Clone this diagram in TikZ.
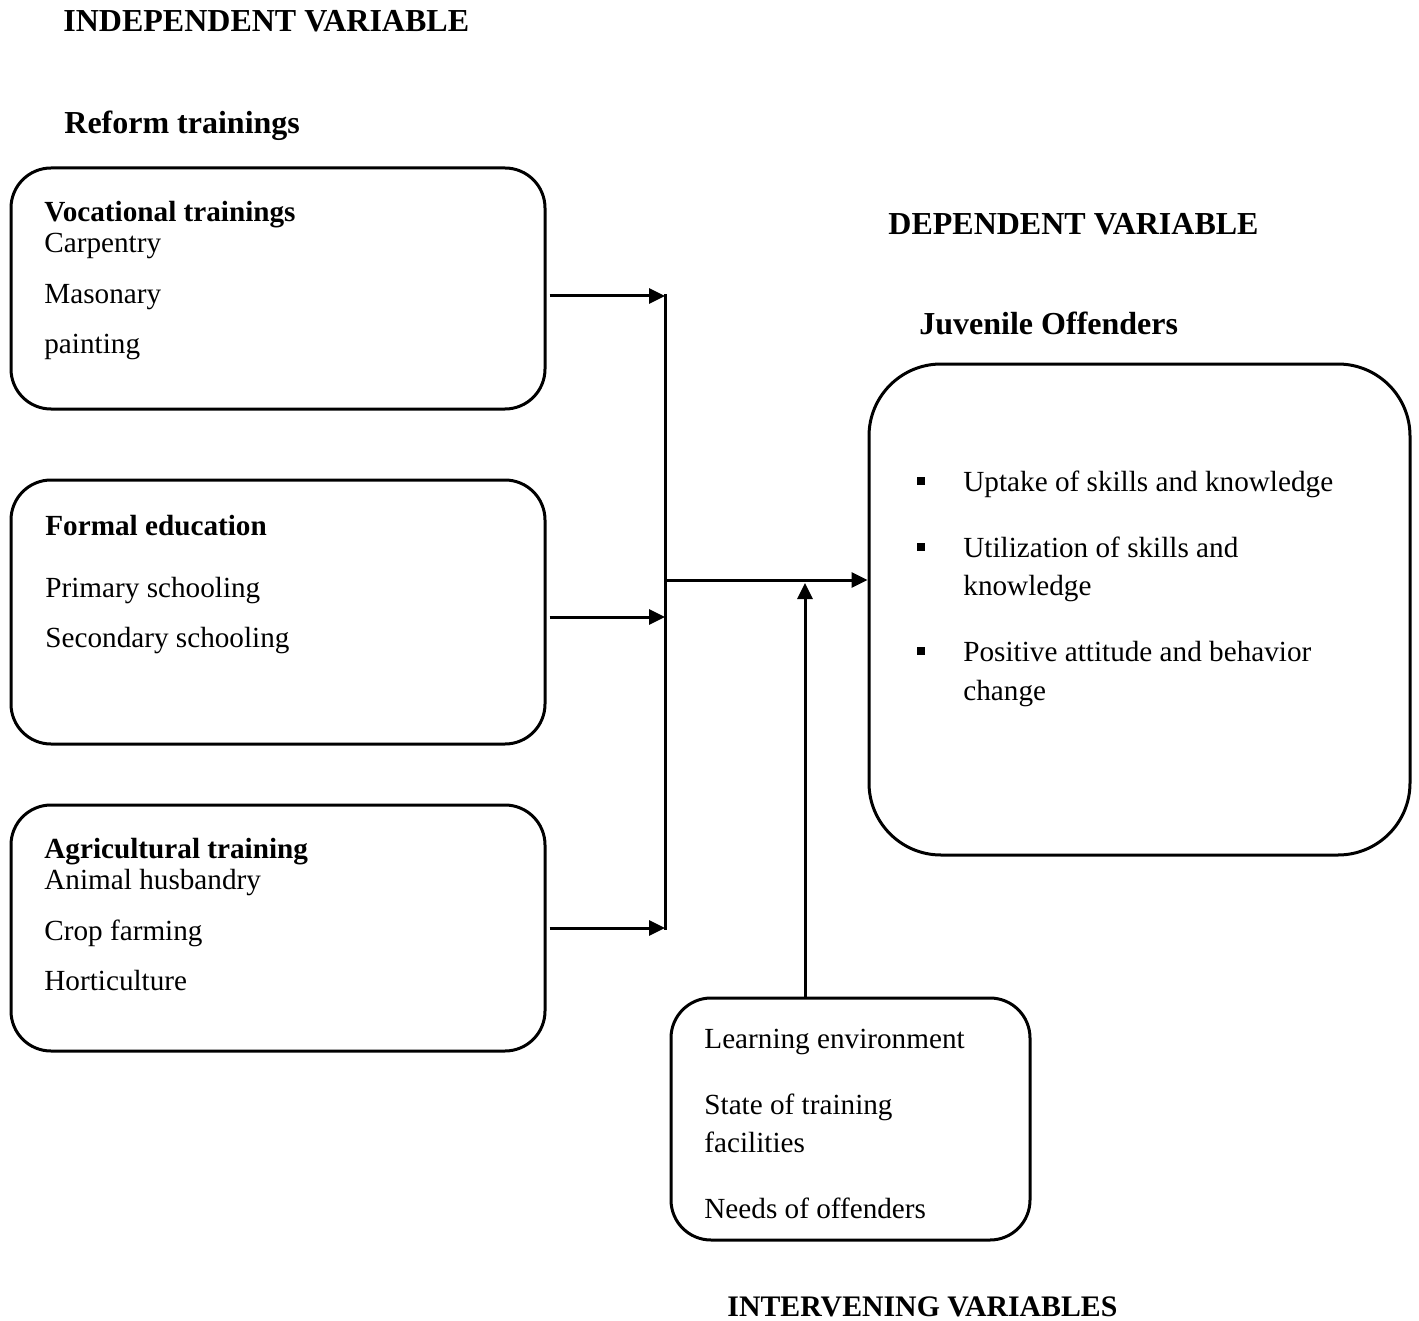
\documentclass[tikz,border=0pt]{standalone}
\usepackage{fontspec}
\setmainfont{Liberation Serif}
\usetikzlibrary{arrows.meta}
\tikzset{
  box/.style={draw, line width=1.5pt, rounded corners=20pt, inner sep=0pt},
  txt/.style={anchor=west, inner sep=0pt, text height=0.7em, text depth=0.25em, font=\fontsize{14.6}{17}\selectfont},
  btxt/.style={txt, font=\fontsize{14.6}{17}\selectfont\bfseries},
  head/.style={txt, font=\fontsize{16}{19}\selectfont\bfseries},
  conn/.style={line width=1.5pt},
  arr/.style={conn, -{Triangle[length=8pt,width=7.5pt]}},
  bul/.style={fill, inner sep=0pt, minimum size=4pt}
}
\begin{document}
\begin{tikzpicture}[x=0.5pt,y=-0.5pt]
\useasboundingbox (0,0) rectangle (1419,1321);

% headings
\node[head] (hind) at (63,27) {INDEPENDENT VARIABLE};
\node[head] (hrt) at (64,129) {Reform trainings};
\node[head] (hdep) at (888,230) {DEPENDENT VARIABLE};
\node[head] (hjo) at (919,330) {Juvenile Offenders};
\node[head, font=\fontsize{14.9}{18}\selectfont\bfseries] (hint) at (727,1312) {INTERVENING VARIABLES};

% boxes
\node[box, minimum width=267pt, minimum height=120.5pt] (box1) at (278,288.5) {};
\node[box, minimum width=267pt, minimum height=132pt] (box2) at (278,612) {};
\node[box, minimum width=267pt, minimum height=123pt] (box3) at (278,928) {};
\node[box, rounded corners=36pt, minimum width=270.5pt, minimum height=245.5pt] (dep) at (1139.5,609.5) {};
\node[box, minimum width=179.5pt, minimum height=121pt] (int) at (850.5,1119) {};

% box1 text
\node[btxt] (t11) at (44,217) {Vocational trainings};
\node[txt] (t12) at (44,248) {Carpentry};
\node[txt] (t13) at (44,299) {Masonary};
\node[txt] (t14) at (44,349) {painting};
% box2 text
\node[btxt] (t21) at (45,531) {Formal education};
\node[txt] (t22) at (45,593) {Primary schooling};
\node[txt] (t23) at (45,643) {Secondary schooling};
% box3 text
\node[btxt] (t31) at (44,854) {Agricultural training};
\node[txt] (t32) at (44,885) {Animal husbandry};
\node[txt] (t33) at (44,936) {Crop farming};
\node[txt] (t34) at (44,986) {Horticulture};
% dependent box text
\node[bul] (b1) at (921,481) {};
\node[txt] (d1) at (963,487) {Uptake of skills and knowledge};
\node[bul] (b2) at (921,547) {};
\node[txt] (d2) at (963,553) {Utilization of skills and};
\node[txt] (d3) at (963,591) {knowledge};
\node[bul] (b3) at (921,651) {};
\node[txt] (d4) at (963,657) {Positive attitude and behavior};
\node[txt] (d5) at (963,696) {change};
% intervening text
\node[txt] (i1) at (704,1044) {Learning environment};
\node[txt] (i2) at (704,1110) {State of training};
\node[txt] (i3) at (704,1148) {facilities};
\node[txt] (i4) at (704,1214) {Needs of offenders};

% junctions
\coordinate (j1) at (665,296);
\coordinate (j2) at (665,617);
\coordinate (j3) at (665,928);
\coordinate (jm) at (665,580);
\coordinate (up) at (805,580);

% connectors
\draw[arr, shorten <=1.5pt] (box1.east |- j1) -- (j1);
\draw[arr, shorten <=1.5pt] (box2.east |- j2) -- (j2);
\draw[arr, shorten <=1.5pt] (box3.east |- j3) -- (j3);
\draw[conn] ([yshift=0.75pt]j1) -- ([yshift=-0.75pt]j3);
\draw[arr] (jm) -- (dep.west |- jm);
\draw[arr, shorten >=1.5pt] (int.north -| up) -- (up);
\end{tikzpicture}
\end{document}
